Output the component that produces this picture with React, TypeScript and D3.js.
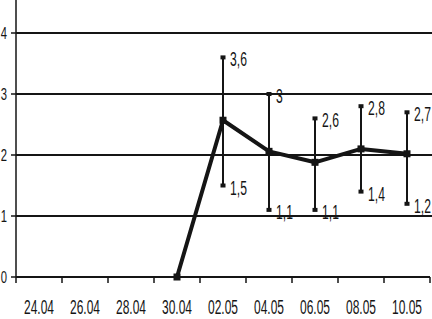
import * as d3 from "d3";
import { useEffect } from "react";
import * as React from "react";

// Dates on the x axis (one band each)
const dates = ["24.04", "26.04", "28.04", "30.04", "02.05", "04.05", "06.05", "08.05", "10.05"];
// Series: mean values with range
const seriesDates = ["30.04", "02.05", "04.05", "06.05", "08.05", "10.05"];
const means = [0, 2.57, 2.06, 1.88, 2.1, 2.02];
const upper: (number | null)[] = [null, 3.6, 3, 2.6, 2.8, 2.7];
const lower: (number | null)[] = [null, 1.5, 1.1, 1.1, 1.4, 1.2];
const yTicks = [0, 1, 2, 3, 4];

const FONT = "'Liberation Sans', Arial, sans-serif";
const INK = "#151515";

const App: React.FC = () => {
  useEffect(() => {
    const width = 432;
    const height = 319;

    const svg = d3
      .select("#chart")
      .append("svg")
      .attr("width", width)
      .attr("height", height)
      .style("display", "block")
      .style("background", "#fff");

    // scales
    const x = d3.scaleBand().domain(dates).range([16, 430]).padding(0);
    const y = d3.scaleLinear().domain([0, 4]).range([277, 33]);
    const cx = (d: string) => (x(d) as number) + x.bandwidth() / 2;

    // horizontal grid lines
    svg
      .selectAll("line.grid")
      .data(yTicks.filter((t) => t > 0))
      .enter()
      .append("line")
      .attr("class", "grid")
      .attr("x1", 16)
      .attr("x2", width)
      .attr("y1", (d) => y(d))
      .attr("y2", (d) => y(d))
      .attr("stroke", INK)
      .attr("stroke-width", 2.2);

    // y axis
    svg
      .append("line")
      .attr("x1", 16)
      .attr("x2", 16)
      .attr("y1", 0)
      .attr("y2", y(0))
      .attr("stroke", INK)
      .attr("stroke-width", 1.5);

    svg
      .selectAll("line.ytick")
      .data(yTicks)
      .enter()
      .append("line")
      .attr("class", "ytick")
      .attr("x1", 11)
      .attr("x2", 16)
      .attr("y1", (d) => y(d))
      .attr("y2", (d) => y(d))
      .attr("stroke", INK)
      .attr("stroke-width", 1.5);

    svg
      .selectAll("text.ylab")
      .data(yTicks)
      .enter()
      .append("text")
      .attr("class", "ylab")
      .attr("transform", (d) => `translate(7,${y(d) + 6}) scale(0.75,1.15)`)
      .attr("text-anchor", "end")
      .attr("font-family", FONT)
      .attr("font-size", 15)
      .attr("fill", INK)
      .text((d) => String(d));

    // x axis
    svg
      .append("line")
      .attr("x1", 16)
      .attr("x2", 430)
      .attr("y1", y(0))
      .attr("y2", y(0))
      .attr("stroke", INK)
      .attr("stroke-width", 2);

    const bounds = dates.map((d) => x(d) as number).concat([430]);
    svg
      .selectAll("line.xtick")
      .data(bounds)
      .enter()
      .append("line")
      .attr("class", "xtick")
      .attr("x1", (d) => d)
      .attr("x2", (d) => d)
      .attr("y1", y(0))
      .attr("y2", y(0) + 6)
      .attr("stroke", INK)
      .attr("stroke-width", 1.5);

    svg
      .selectAll("text.xlab")
      .data(dates)
      .enter()
      .append("text")
      .attr("class", "xlab")
      .attr("transform", (d) => `translate(${cx(d)},314) scale(0.75,1.28)`)
      .attr("text-anchor", "middle")
      .attr("font-family", FONT)
      .attr("font-size", 16)
      .attr("fill", INK)
      .text((d) => d);

    // error bars
    const rows = seriesDates.map((d, i) => ({ d, m: means[i], hi: upper[i], lo: lower[i] }));
    const bars = rows.filter((r) => r.hi !== null && r.lo !== null);

    svg
      .selectAll("line.err")
      .data(bars)
      .enter()
      .append("line")
      .attr("class", "err")
      .attr("x1", (r) => cx(r.d))
      .attr("x2", (r) => cx(r.d))
      .attr("y1", (r) => y(r.hi as number))
      .attr("y2", (r) => y(r.lo as number))
      .attr("stroke", INK)
      .attr("stroke-width", 2);

    const caps = bars.flatMap((r) => [
      { d: r.d, v: r.hi as number },
      { d: r.d, v: r.lo as number },
    ]);

    svg
      .selectAll("rect.cap")
      .data(caps)
      .enter()
      .append("rect")
      .attr("class", "cap")
      .attr("x", (c) => cx(c.d) - 2.5)
      .attr("y", (c) => y(c.v) - 2)
      .attr("width", 5)
      .attr("height", 4)
      .attr("fill", INK);

    svg
      .selectAll("text.caplab")
      .data(caps)
      .enter()
      .append("text")
      .attr("class", "caplab")
      .attr("transform", (c) => `translate(${cx(c.d) + 7},${y(c.v) + 9}) scale(0.76,1.22)`)
      .attr("font-family", FONT)
      .attr("font-size", 16)
      .attr("fill", INK)
      .text((c) => String(c.v).replace(".", ","));

    // mean line
    const line = d3
      .line<{ d: string; m: number }>()
      .x((r) => cx(r.d))
      .y((r) => y(r.m));

    svg
      .append("path")
      .attr("d", line(rows) as string)
      .attr("fill", "none")
      .attr("stroke", INK)
      .attr("stroke-width", 4)
      .attr("stroke-linejoin", "round");

    svg
      .selectAll("rect.pt")
      .data(rows)
      .enter()
      .append("rect")
      .attr("class", "pt")
      .attr("x", (r) => cx(r.d) - 3.5)
      .attr("y", (r) => y(r.m) - 3.5)
      .attr("width", 7)
      .attr("height", 7)
      .attr("fill", INK);

    return () => {
      d3.select("#chart").select("svg").remove();
    };
  });

  return (
    <div id="chart" style={{ position: "absolute", left: 0, top: 0 }}></div>
  );
};

export default App;
